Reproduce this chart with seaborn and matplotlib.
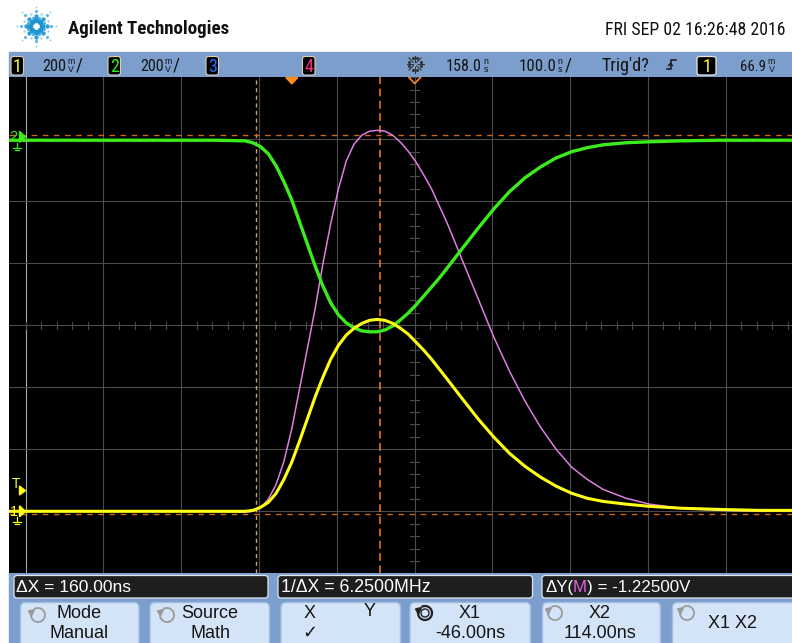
import matplotlib
matplotlib.use("Agg")
import matplotlib.pyplot as plt
import seaborn as sns
import pandas as pd
import math
from matplotlib.patches import Rectangle, FancyBboxPatch, Polygon, Arc
from matplotlib import font_manager

# ---------------- data ----------------
time_ns = [-364, -300, -200, -100, -60, -50, -40, -30, -20, -10,
           0, 10, 20, 30, 40, 50, 60, 70, 80, 90, 100, 110, 120, 130, 140, 150, 160, 170, 180, 190, 200,
           220, 240, 260, 280, 300, 320, 340, 360, 380, 400,
           430, 460, 500, 550, 600, 644]
ch1_mv = [0, 0, 0, 0, 0, 3, 13, 29, 58, 103,
          158, 226, 297, 368, 432, 490, 535, 568, 590, 606, 616, 619, 616, 606, 590, 571, 545, 519, 490, 458, 426,
          361, 297, 239, 187, 145, 110, 81, 58, 42, 32,
          23, 16, 10, 6, 3, 3]
ch2_mv = [-11, -11, -11, -11, -13, -19, -32, -55, -94, -145,
          -203, -274, -345, -416, -481, -535, -574, -600, -616, -626, -629, -629, -623, -610, -590, -568, -542, -513, -484, -455, -423,
          -358, -294, -232, -177, -132, -97, -68, -48, -35, -26,
          -19, -16, -13, -11, -11, -11]
math_mv = [0, 0, 0, 0, -3, 0, 10, 39, 87, 161,
           265, 394, 523, 652, 797, 926, 1039, 1129, 1184, 1213, 1226, 1229, 1226, 1213, 1190, 1161, 1126, 1084, 1039, 984, 929,
           806, 684, 561, 452, 355, 271, 200, 142, 103, 71,
           42, 23, 10, 3, 0, 0]

volts_per_div = 0.2          # 200 mV/div for all channels
time_per_div = 100           # ns/div
delay_ns = 158
ch1_offset_div = -3.0
ch2_offset_div = 3.04
math_offset_div = -3.0
trig_level_mv = 66.9
cursor_x1_ns, cursor_x2_ns = -46.0, 114.0
cursor_y1_v, cursor_y2_v = 1.215, -0.010

header_title = "Agilent Technologies"
date_text = "FRI SEP 02 16:26:48 2016"

# ---------------- figure ----------------
W, H = 792, 643
fig = plt.figure(figsize=(W / 100, H / 100), dpi=100)
fig.patch.set_facecolor("white")

avail = {f.name for f in font_manager.fontManager.ttflist}
narrow = [n for n in ["Liberation Sans Narrow", "Arial Narrow", "Roboto Condensed"] if n in avail]
NARROW = [narrow[0] if narrow else "Liberation Sans", "DejaVu Sans"]
UI = ["Liberation Sans", "DejaVu Sans"]

bg = fig.add_axes([0, 0, 1, 1], zorder=0)
bg.set_xlim(0, W); bg.set_ylim(H, 0); bg.axis("off")
top = fig.add_axes([0, 0, 1, 1], zorder=5)
top.set_xlim(0, W); top.set_ylim(H, 0); top.axis("off")
top.patch.set_alpha(0)

R = fig.canvas.get_renderer()


def fit(ax, x, y, s, w, size=12, ha="left", va="baseline", family=None, **kw):
    t = ax.text(x, y, s, ha=ha, va=va, fontsize=size, family=family or UI, **kw)
    bw = t.get_window_extent(R).width
    if bw > 0:
        t.set_fontsize(size * w / bw)
    return t


# ---- header ----
cx, cy = 36, 26
for k in range(8):
    a = math.radians(45 * k)
    for r, s, c in [(6, 16, "#1f95d0"), (10.5, 10, "#2aa0d8"), (15, 5, "#5ab8e4"), (19.5, 2.2, "#9fd3ef")]:
        bg.scatter(cx + r * math.cos(a), cy + r * math.sin(a), s=s, color=c, lw=0, zorder=3)
    a2 = a + math.radians(22.5)
    for r, s, c in [(9, 5, "#4aaee0"), (13.5, 2.5, "#8ccaea")]:
        bg.scatter(cx + r * math.cos(a2), cy + r * math.sin(a2), s=s, color=c, lw=0, zorder=3)
fit(bg, 68, 33.5, header_title, 162, size=14, family=NARROW, weight="bold", color="#111111")
fit(bg, 605, 35, date_text, 180, size=13, family=NARROW, color="#111111")

# ---- status bar ----
BAR = "#7c9ecd"
bg.add_patch(Rectangle((9, 52), W - 9, 25.5, color=BAR, zorder=1))


def chbox(x0, x1, label, color):
    bg.add_patch(FancyBboxPatch((x0, 56.5), x1 - x0, 18.5, boxstyle="round,pad=0,rounding_size=2.5",
                                fc="black", ec="#d9d2b0", lw=0.8, zorder=3))
    bg.text((x0 + x1) / 2, 72.5, label, ha="center", va="baseline", fontsize=13,
            family=NARROW, color=color, zorder=4)


def stacked(x, topch, botch, size=6.3):
    bg.text(x, 65.5, topch + "\n" + botch, ha="center", va="center", fontsize=size,
            linespacing=0.78, family=UI, color="#111111", zorder=4)


INK = "#151515"
chbox(11, 23.5, "1", "#ffff20")
fit(bg, 42.5, 71, "200", 24, size=12, family=NARROW, color=INK, zorder=4)
stacked(71, "m", "V")
fit(bg, 76, 71, "/", 7, size=12, family=NARROW, color=INK, zorder=4)
chbox(108, 120.5, "2", "#30ee20")
fit(bg, 140, 71, "200", 23.5, size=12, family=NARROW, color=INK, zorder=4)
stacked(168, "m", "V")
fit(bg, 173, 71, "/", 7, size=12, family=NARROW, color=INK, zorder=4)
chbox(206, 218.5, "3", "#2a6cff")
chbox(302.5, 315, "4", "#ff2a8a")

# sun (acquisition) icon
for k in range(8):
    a = math.radians(45 * k)
    bg.plot([415 + 2.5 * math.cos(a), 415 + 8.5 * math.cos(a)],
            [64 + 2.5 * math.sin(a), 64 + 8.5 * math.sin(a)], color="#333333", lw=0.8, zorder=4)
    a2 = a + math.radians(22.5)
    bg.scatter(415 + 6 * math.cos(a2), 64 + 6 * math.sin(a2), s=1.5, color="#333333", zorder=4)

fit(bg, 445.7, 71, "158.0", 36, size=12, family=NARROW, color=INK, zorder=4)
stacked(485.5, "n", "s")
fit(bg, 519, 71, "100.0", 37, size=12, family=NARROW, color=INK, zorder=4)
stacked(559.5, "n", "s")
fit(bg, 564.5, 71, "/", 7, size=12, family=NARROW, color=INK, zorder=4)
fit(bg, 601, 71, "Trig'd?", 48, size=12, family=NARROW, color=INK, zorder=4)
bg.plot([666.5, 670.5, 670.5, 675.5], [69, 69, 59.5, 59.5], color=INK, lw=1.1, zorder=4)
bg.plot([668.5, 670.5, 672.5], [65.5, 63.5, 65.5], color=INK, lw=1.0, zorder=4)
bg.add_patch(FancyBboxPatch((697, 56.5), 19, 18.5, boxstyle="round,pad=0,rounding_size=2.5",
                            fc="black", ec="#e8e8e8", lw=0.9, zorder=3))
bg.text(706.5, 72.5, "1", ha="center", va="baseline", fontsize=13, family=NARROW, color="#ffff20", zorder=4)
fit(bg, 740, 71, "66.9", 26, size=12, family=NARROW, color=INK, zorder=4)
stacked(771.5, "m", "V")

# ---- bottom softkey area ----
bg.add_patch(Rectangle((9, 573), W - 9, H - 573, color=BAR, zorder=1))
for x0, x1 in [(14, 268), (278, 532.5), (542, 800)]:
    bg.add_patch(FancyBboxPatch((x0, 575.5), x1 - x0, 22.5, boxstyle="round,pad=0,rounding_size=3",
                                fc="#1e1e1e", ec="#dfe6f0", lw=0.9, zorder=3))
fit(bg, 16, 592, "ΔX = 160.00ns", 115, size=12, color="white", zorder=4)
fit(bg, 281, 592, "1/ΔX = 6.2500MHz", 149, size=12, color="white", zorder=4)
xx = 545
for s, c in [("ΔY(", "white"), ("M", "#e55ee5"), (") = -1.22500V", "white")]:
    t = bg.text(xx, 592, s, ha="left", va="baseline", fontsize=12.2, family=UI, color=c, zorder=4)
    xx += t.get_window_extent(R).width

BTN = "#d4e4f8"
buttons = [(20.5, 139), (150, 269.5), (281, 400.5), (410, 530.5), (542.5, 660.5), (672.5, 800)]
for x0, x1 in buttons:
    bg.add_patch(FancyBboxPatch((x0, 602.5), x1 - x0, 48, boxstyle="round,pad=0,rounding_size=5",
                                fc=BTN, ec="#a3bde0", lw=1.0, zorder=3))


def knob(x, y, color="#9a9a9a", lw=1.3):
    bg.add_patch(Arc((x, y), 14, 14, theta1=-120, theta2=190, color=color, lw=lw, zorder=4))
    bg.add_patch(Polygon([(x - 9.5, y - 4), (x - 3.5, y - 5.5), (x - 6.5, y + 1)], closed=True,
                         color=color, zorder=4))


def label2(xc, l1, l2, y1=618.5, y2=637.5):
    bg.text(xc, y1, l1, ha="center", va="baseline", fontsize=13, family=UI, color=INK, zorder=4)
    bg.text(xc, y2, l2, ha="center", va="baseline", fontsize=13, family=UI, color=INK, zorder=4)


knob(38, 615)
label2(79, "Mode", "Manual")
knob(167, 615)
label2(210, "Source", "Math")
bg.text(310, 618.5, "X", ha="center", va="baseline", fontsize=13, family=UI, color=INK, zorder=4)
bg.text(370, 616.5, "Y", ha="center", va="baseline", fontsize=13, family=UI, color=INK, zorder=4)
bg.text(310, 637.5, "✓", ha="center", va="baseline", fontsize=13, family=["DejaVu Sans"], color=INK, zorder=4)
knob(425, 613, color="#222222", lw=1.6)
bg.add_patch(Arc((425, 613), 8, 8, theta1=0, theta2=360, color="#222222", lw=1.0, zorder=4))
label2(470, "X1", "-46.00ns")
knob(555, 613)
label2(600, "X2", "114.00ns")
knob(687, 613)
bg.text(732, 628, "X1 X2", ha="center", va="baseline", fontsize=13, family=UI, color=INK, zorder=4)

# ---------------- scope screen ----------------
px_per_ns = 77.78 / time_per_div
x_left_grid = 25.7
t_left_grid = delay_ns - 5 * time_per_div
x0_px, x1_px = 9, W
t_min = t_left_grid - (x_left_grid - x0_px) / px_per_ns
t_max = t_left_grid + (x1_px - x_left_grid) / px_per_ns
y_top, y_bot = 77.3, 573.3

ax = fig.add_axes([x0_px / W, (H - y_bot) / H, (x1_px - x0_px) / W, (y_bot - y_top) / H], zorder=2)
ax.set_facecolor("black")
ax.set_xlim(t_min, t_max)
ax.set_ylim(-4, 4)
for sp in ax.spines.values():
    sp.set_visible(False)

GRID = "#4b4b4b"
for k in range(11):
    t = t_left_grid + k * time_per_div
    ax.axvline(t, color="#a8a8a8" if k == 0 else GRID, lw=0.8, zorder=1)
for k in range(-3, 4):
    ax.axhline(k, color=GRID, lw=0.8, zorder=1)
for k in range(0, 51):
    t = t_left_grid + k * time_per_div / 5
    ax.plot([t, t], [-0.06, 0.06], color=GRID, lw=0.8, zorder=1)
for k in range(-20, 21):
    y = k / 5
    ax.plot([delay_ns - 5.5, delay_ns + 5.5], [y, y], color=GRID, lw=0.8, zorder=1)

ax.axvline(cursor_x1_ns, color="#c9a173", lw=1.0, dashes=(3, 2.5), zorder=2)
ax.axvline(cursor_x2_ns, color="#ff7f10", lw=1.1, dashes=(5, 3), zorder=2)
ax.axhline(math_offset_div + cursor_y1_v / volts_per_div, color="#c8661c", lw=1.0, dashes=(4, 4), zorder=2)
ax.axhline(math_offset_div + cursor_y2_v / volts_per_div, color="#c8661c", lw=1.0, dashes=(4, 4), zorder=2)

df = pd.DataFrame({
    "t": time_ns,
    "ch1": [v / 1000 / volts_per_div + ch1_offset_div for v in ch1_mv],
    "ch2": [v / 1000 / volts_per_div + ch2_offset_div for v in ch2_mv],
    "math": [v / 1000 / volts_per_div + math_offset_div for v in math_mv],
})
sns.lineplot(data=df, x="t", y="math", ax=ax, color="#e07ee0", lw=1.1, estimator=None, sort=False, zorder=3)
sns.lineplot(data=df, x="t", y="ch2", ax=ax, color="#3ceb1c", lw=2.4, estimator=None, sort=False, zorder=4)
sns.lineplot(data=df, x="t", y="ch1", ax=ax, color="#ffff14", lw=2.2, estimator=None, sort=False, zorder=5)
ax.set_xlabel(""); ax.set_ylabel("")
ax.set_xticks([]); ax.set_yticks([])


def ypx(div):
    return 325.3 - div * 62


y2g = ypx(ch2_offset_div)
y1g = ypx(ch1_offset_div)
yT = ypx(ch1_offset_div + trig_level_mv / 1000 / volts_per_div)
top.text(13, y2g + 4.5, "2", ha="center", va="baseline", fontsize=10.5, family=UI, color="#3ceb1c")
top.add_patch(Polygon([(19.5, y2g - 5.5), (19.5, y2g + 5.5), (25.5, y2g)], color="#3ceb1c"))
top.plot([16.5, 16.5], [y2g + 6, y2g + 11], color="#3ceb1c", lw=0.9)
top.plot([12.5, 20.5], [y2g + 11, y2g + 11], color="#3ceb1c", lw=0.9)
top.plot([14.5, 18.5], [y2g + 13, y2g + 13], color="#3ceb1c", lw=0.9)
top.text(16.5, yT - 3, "T", ha="center", va="baseline", fontsize=10, family=UI, color="#ffff14")
top.add_patch(Polygon([(19.5, yT - 4.5), (19.5, yT + 4.5), (25.5, yT)], color="#ffff14"))
top.text(14, y1g + 4.5, "1", ha="center", va="baseline", fontsize=10.5, family=UI, color="#ffff14")
top.add_patch(Polygon([(19.5, y1g - 5.5), (19.5, y1g + 5.5), (25.5, y1g)], color="#ffff14"))
top.plot([16.5, 16.5], [y1g + 6, y1g + 11], color="#ffff14", lw=0.9)
top.plot([12.5, 20.5], [y1g + 11, y1g + 11], color="#ffff14", lw=0.9)
top.plot([14.5, 18.5], [y1g + 13, y1g + 13], color="#ffff14", lw=0.9)

x_trig = 414.7 + (0 - delay_ns) * px_per_ns
top.add_patch(Polygon([(x_trig - 6, 77.5), (x_trig + 6, 77.5), (x_trig, 84)], color="#ff8a1e"))
top.plot([409, 414.7, 420.5], [77.5, 83.5, 77.5], color="#ff8a1e", lw=1.2)

fig.savefig("out.png", dpi=100, facecolor="white")
